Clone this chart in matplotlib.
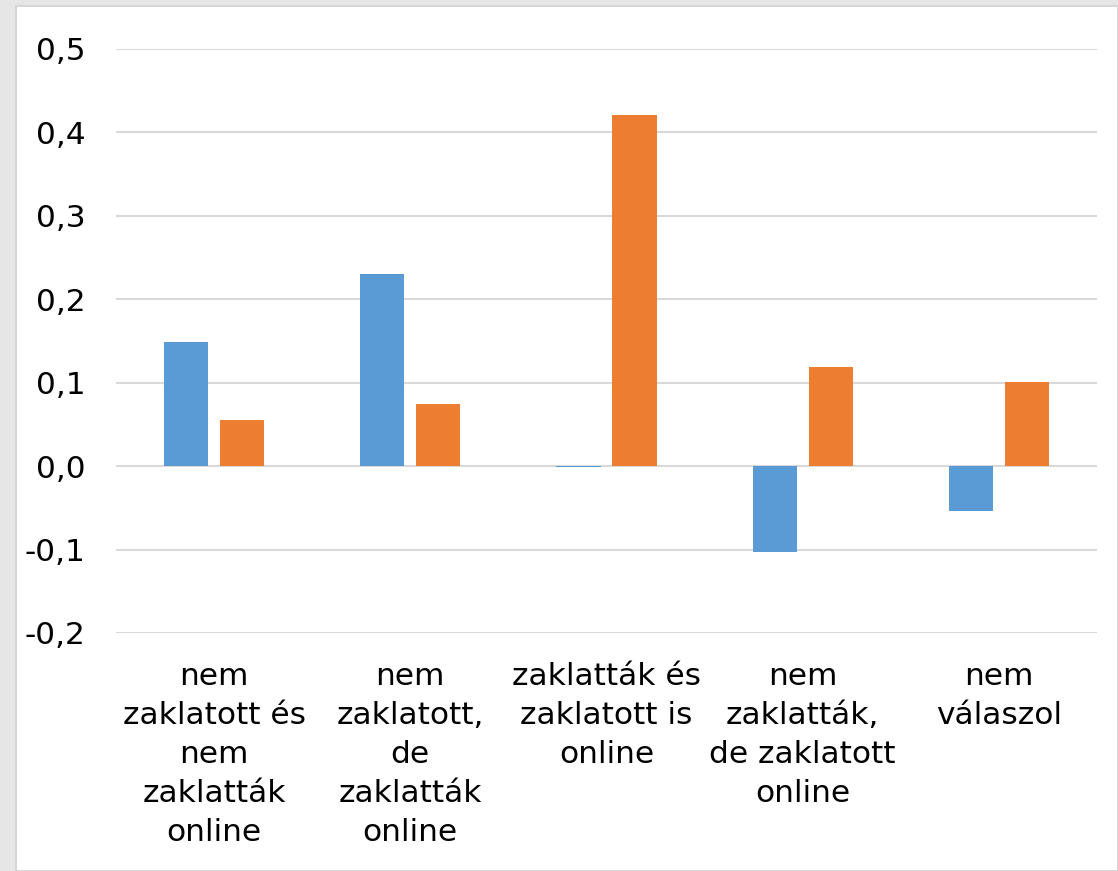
import matplotlib
matplotlib.use("Agg")
import matplotlib.pyplot as plt
import numpy as np
from matplotlib.patches import Rectangle

categories = ["nem\nzaklatott és\nnem\nzaklatták\nonline",
              "nem\nzaklatott,\nde\nzaklatták\nonline",
              "zaklatták és\nzaklatott is\nonline",
              "nem\nzaklatták,\nde zaklatott\nonline",
              "nem\nválaszol"]
series_blue = [0.149, 0.230, -0.001, -0.103, -0.054]
series_orange = [0.055, 0.074, 0.421, 0.119, 0.101]
yticks = [-0.2, -0.1, 0.0, 0.1, 0.2, 0.3, 0.4, 0.5]
ytick_labels = ["-0,2", "-0,1", "0,0", "0,1", "0,2", "0,3", "0,4", "0,5"]

W, H = 1118, 871
fig = plt.figure(figsize=(W / 100, H / 100), dpi=100, facecolor="#e7e6e6")
fig.patches.append(Rectangle((16 / W, 0), 1 - 16 / W, 1 - 6 / H, transform=fig.transFigure,
                             facecolor="white", edgecolor="#d6d6d6", linewidth=1.5, zorder=-10))

left, right = 116 / W, 1097 / W
bottom, top = 1 - 633 / H, 1 - 49 / H
ax = fig.add_axes([left, bottom, right - left, top - bottom])
ax.set_zorder(5)
ax.set_facecolor("none")

x = np.arange(len(categories))
bw = 0.225
gap = 0.06
ax.bar(x - (bw + gap) / 2, series_blue, width=bw, color="#5b9bd5", zorder=3)
ax.bar(x + (bw + gap) / 2, series_orange, width=bw, color="#ed7d31", zorder=3)

ax.set_xlim(-0.5, len(categories) - 0.5)
ax.set_ylim(-0.2, 0.5)
ax.set_yticks(yticks)
ax.set_yticklabels(ytick_labels, fontsize=22.5, color="#000000")
ax.yaxis.grid(True, color="#d9d9d9", linewidth=1.5, zorder=0)
ax.set_axisbelow(True)
ax.tick_params(axis="y", length=0, pad=22)
ax.set_xticks(x)
ax.set_xticklabels(categories, fontsize=22.5, linespacing=1.43, ha="center", va="top")
ax.tick_params(axis="x", length=0, pad=21)
for s in ax.spines.values():
    s.set_visible(False)

fig.savefig("out.png", dpi=100, facecolor=fig.get_facecolor())
